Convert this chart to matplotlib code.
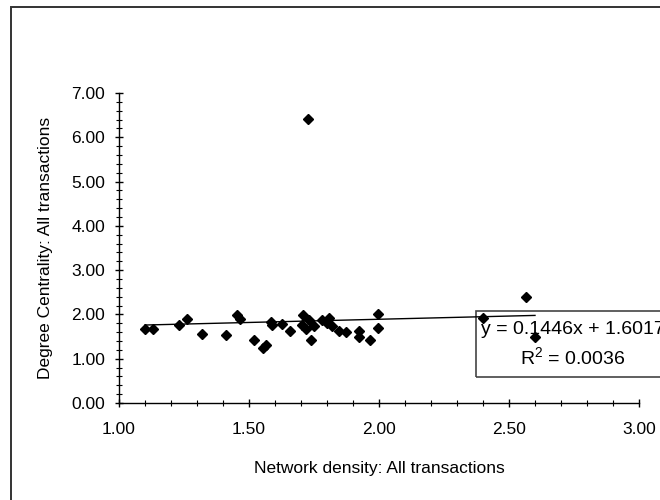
import numpy as np
import matplotlib
matplotlib.use("Agg")
import matplotlib.pyplot as plt
from matplotlib.patches import Rectangle
from matplotlib.ticker import MultipleLocator, FormatStrFormatter

plt.rcParams['font.family'] = ['Liberation Sans', 'DejaVu Sans']
plt.rcParams['mathtext.fontset'] = 'custom'
plt.rcParams['mathtext.rm'] = 'Liberation Sans'
plt.rcParams['mathtext.it'] = 'Liberation Sans'

# data
density = [1.10, 1.13, 1.23, 1.26, 1.32, 1.41, 1.455, 1.465, 1.52, 1.555,
           1.565, 1.583, 1.59, 1.627, 1.658, 1.709, 1.703, 1.719, 1.732, 1.75,
           1.737, 1.78, 1.808, 1.80, 1.818, 1.847, 1.873, 1.924, 1.924, 1.965,
           1.997, 1.997, 2.40, 2.565, 2.60, 1.725]
centrality = [1.66, 1.66, 1.77, 1.90, 1.56, 1.53, 1.98, 1.90, 1.42, 1.25,
              1.32, 1.84, 1.76, 1.78, 1.63, 1.98, 1.77, 1.68, 1.87, 1.74,
              1.42, 1.87, 1.93, 1.80, 1.75, 1.63, 1.60, 1.63, 1.50, 1.42,
              2.01, 1.69, 1.91, 2.39, 1.50, 6.41]

slope = 0.1446
intercept = 1.6017
r_squared = 0.0036

fig = plt.figure(figsize=(6.6, 5.0), dpi=100)
ax = fig.add_axes([119 / 660, 97 / 500, 520 / 660, 310 / 500])
ax.set_zorder(2)
ax.patch.set_visible(False)

# outer chart frame (runs off the right/bottom edge like the original)
fig.patches.append(Rectangle((11 / 660, -0.2), 1.2, 1.2 - 7 / 500,
                             transform=fig.transFigure, fill=False,
                             edgecolor='#333333', linewidth=1.4))

ax.plot(density, centrality, linestyle='none', marker='D', markersize=5,
        color='black', clip_on=False, zorder=3)

x_fit = np.array([min(density), max(density)])
ax.plot(x_fit, slope * x_fit + intercept, color='black', linewidth=1.0,
        zorder=2)

ax.set_xlim(1.0, 3.0)
ax.set_ylim(0.0, 7.0)
ax.xaxis.set_major_locator(MultipleLocator(0.5))
ax.xaxis.set_minor_locator(MultipleLocator(0.1))
ax.yaxis.set_major_locator(MultipleLocator(1.0))
ax.yaxis.set_minor_locator(MultipleLocator(0.2))
ax.xaxis.set_major_formatter(FormatStrFormatter('%.2f'))
ax.yaxis.set_major_formatter(FormatStrFormatter('%.2f'))

for side in ('top', 'right'):
    ax.spines[side].set_visible(False)
for side in ('left', 'bottom'):
    ax.spines[side].set_linewidth(1.0)

ax.tick_params(axis='both', which='major', direction='inout', length=6,
               width=1.0, labelsize=12.5, colors='black')
ax.tick_params(axis='both', which='minor', direction='inout', length=4.5,
               width=0.8)
ax.tick_params(axis='x', which='major', pad=11)
ax.tick_params(axis='y', which='major', pad=7)

ax.set_xlabel('Network density: All transactions', fontsize=12.5)
ax.set_ylabel('Degree Centrality: All transactions', fontsize=12.5)
ax.xaxis.set_label_coords(0.5, -0.187)
ax.yaxis.set_label_coords(-0.126, 0.5)

# trendline equation box (transparent, like the original)
fig.patches.append(Rectangle((476 / 660, 1 - 377 / 500), 200 / 660, 66 / 500,
                             transform=fig.transFigure, fill=False,
                             edgecolor='#444444', linewidth=1.2))
fig.text(573 / 660, 1 - 330 / 500, f'y = {slope:.4f}x + {intercept:.4f}',
         ha='center', va='center', fontsize=14)
fig.text(573 / 660, 1 - 357 / 500, r'R$^\mathrm{2}$' + f' = {r_squared:.4f}',
         ha='center', va='center', fontsize=14)

fig.savefig('out.png', dpi=100)
